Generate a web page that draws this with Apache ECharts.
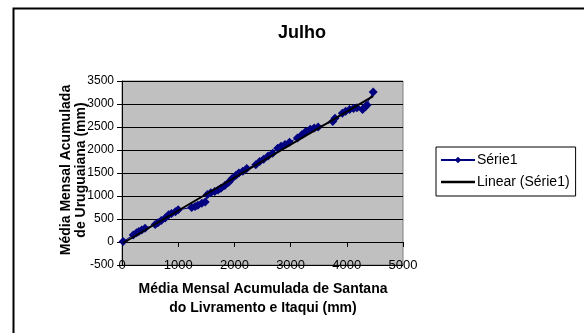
<!DOCTYPE html>
<html><head><meta charset="utf-8">
<script src="https://cdn.jsdelivr.net/npm/echarts@6/dist/echarts.min.js"></script>
<style>html,body{margin:0;padding:0;background:#fff}#c{width:584px;height:333px}</style>
</head><body><div id="c"></div>
<script>
var chartTitle = 'Julho';
var seriesName = 'Série1';
var trendName = 'Linear (Série1)';
var xTitle = 'Média Mensal Acumulada de Santana\ndo Livramento e Itaqui (mm)';
var yTitle = 'Média Mensal Acumulada\nde Uruguaiana (mm)';
var xVals = [20,200,260,300,350,410,590,640,700,770,830,880,950,1000,1240,1300,1350,1420,1480,1520,1580,1650,1710,1760,1830,1900,1960,2030,2080,2150,2220,2380,2450,2520,2600,2680,2770,2830,2900,2980,3120,3200,3270,3350,3420,3490,3750,3790,3920,3980,4050,4120,4180,4280,4330,4360,4470];
var yVals = [10,150,200,230,260,300,380,420,470,520,590,620,660,700,750,770,800,840,870,1030,1070,1100,1130,1170,1230,1300,1380,1450,1500,1540,1600,1680,1750,1800,1870,1930,2040,2080,2120,2170,2260,2330,2400,2450,2480,2500,2620,2690,2800,2840,2880,2900,2920,2880,2940,2980,3260];
var xTicks = [0,1000,2000,3000,4000,5000];
var yTicks = [-500,0,500,1000,1500,2000,2500,3000,3500];

var pts = xVals.map(function(x,i){return [x,yVals[i]];});
var n = xVals.length, sx=0, sy=0, sxx=0, sxy=0;
for (var i=0;i<n;i++){sx+=xVals[i];sy+=yVals[i];sxx+=xVals[i]*xVals[i];sxy+=xVals[i]*yVals[i];}
var slope=(n*sxy-sx*sy)/(n*sxx-sx*sx), icpt=(sy-slope*sx)/n;
var xmin=Math.min.apply(null,xVals), xmax=Math.max.apply(null,xVals);
var trend=[[xmin,icpt+slope*xmin],[xmax,icpt+slope*xmax]];

var chart = echarts.init(document.getElementById('c'), null, {renderer:'canvas'});
var F = 'Liberation Sans, Arial, sans-serif';
function plain(v){return String(v);}
chart.setOption({
  animation:false,
  backgroundColor:'#fff',
  grid:{left:122,top:81,right:181,bottom:68,show:true,backgroundColor:'#C0C0C0',borderColor:'#808080',borderWidth:1},
  xAxis:[{
    type:'value',min:xTicks[0],max:xTicks[xTicks.length-1],interval:1000,position:'bottom',
    axisLine:{show:true,onZero:true,lineStyle:{color:'#000',width:1}},
    axisTick:{show:true,inside:false,length:5,lineStyle:{color:'#000'}},
    axisLabel:{show:false},splitLine:{show:false}
  },{
    type:'value',min:xTicks[0],max:xTicks[xTicks.length-1],interval:1000,position:'bottom',
    axisLine:{show:false,onZero:false},axisTick:{show:false},
    axisLabel:{show:true,margin:-6,color:'#000',fontSize:13,fontFamily:F,formatter:plain},splitLine:{show:false}
  }],
  yAxis:{
    type:'value',min:yTicks[0],max:yTicks[yTicks.length-1],interval:500,
    axisLine:{show:true,onZero:false,lineStyle:{color:'#000',width:1}},
    axisTick:{show:true,inside:false,length:5,lineStyle:{color:'#000'}},
    axisLabel:{margin:8,color:'#000',fontSize:12,fontFamily:F,formatter:plain},
    splitLine:{show:true,lineStyle:{color:'#000',width:1}}
  },
  legend:{
    orient:'vertical',left:436,top:147,width:120,
    backgroundColor:'#fff',borderColor:'#000',borderWidth:1,borderRadius:0,
    padding:[6,6,7,4],itemGap:8,itemWidth:34,itemHeight:8,symbolKeepAspect:true,
    textStyle:{color:'#000',fontSize:14,fontFamily:F,padding:[0,0,0,-3]},
    data:[{name:seriesName},{name:trendName,icon:'path://M0,0H34V2.4H0Z',itemStyle:{color:'#000'}}]
  },
  series:[{
    name:seriesName,type:'line',xAxisIndex:0,data:pts,
    symbol:'diamond',symbolSize:9,
    lineStyle:{color:'#000080',width:1},itemStyle:{color:'#000080'},z:2
  },{
    name:trendName,type:'line',xAxisIndex:0,data:trend,symbol:'none',
    lineStyle:{color:'#000',width:2},itemStyle:{color:'#000'},z:3
  }],
  graphic:[
    {type:'polyline',shape:{points:[[13.5,333],[13.5,8.5],[584,8.5]]},style:{stroke:'#000',lineWidth:2,fill:null},silent:true},
    {type:'text',style:{text:chartTitle,x:302,y:33,textAlign:'center',textVerticalAlign:'middle',font:'bold 18px '+F,fill:'#000'}},
    {type:'text',style:{text:xTitle,x:263,y:299,textAlign:'center',textVerticalAlign:'middle',font:'bold 14px '+F,fill:'#000',lineHeight:19}},
    {type:'text',x:73.5,y:170,rotation:Math.PI/2,style:{text:yTitle,x:0,y:0,textAlign:'center',textVerticalAlign:'middle',font:'bold 14px '+F,fill:'#000',lineHeight:15}}
  ]
});
</script></body></html>
